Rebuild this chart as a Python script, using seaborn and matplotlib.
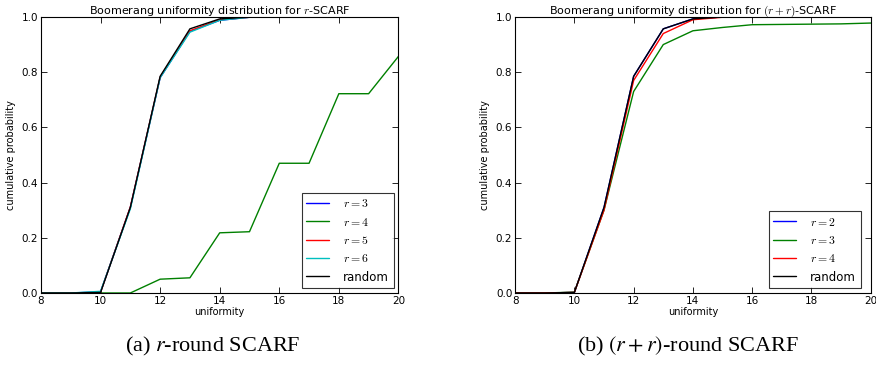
import pandas as pd
import matplotlib
matplotlib.use("Agg")
import matplotlib.pyplot as plt
import seaborn as sns

# ---------------- THEME ----------------
sns.set_style("ticks")
plt.rcParams["font.family"] = ["DejaVu Sans"]
plt.rcParams["mathtext.fontset"] = "cm"
plt.rcParams["xtick.direction"] = "in"
plt.rcParams["ytick.direction"] = "in"
plt.rcParams["text.color"] = "black"
plt.rcParams["axes.labelcolor"] = "black"

# ---------------- DATA ----------------
uniformity = [8, 9, 10, 11, 12, 13, 14, 15, 16, 17, 18, 19, 20]

# (a) r-SCARF
a_labels = ["$r=3$", "$r=4$", "$r=5$", "$r=6$", "random"]
a_r3 = [0.0, 0.0, 0.004, 0.31, 0.78, 0.948, 0.988, 0.999, 1.0, 1.0, 1.0, 1.0, 1.0]
a_r4 = [0.0, 0.0, 0.0, 0.0, 0.05, 0.055, 0.218, 0.222, 0.47, 0.47, 0.722, 0.722, 0.857]
a_r5 = [0.0, 0.0, 0.003, 0.312, 0.782, 0.95, 0.99, 0.999, 1.0, 1.0, 1.0, 1.0, 1.0]
a_r6 = [0.0, 0.0, 0.006, 0.305, 0.78, 0.945, 0.988, 0.999, 1.0, 1.0, 1.0, 1.0, 1.0]
a_rand = [0.0, 0.0, 0.002, 0.31, 0.785, 0.957, 0.993, 1.0, 1.0, 1.0, 1.0, 1.0, 1.0]

# (b) (r+r)-SCARF
b_labels = ["$r=2$", "$r=3$", "$r=4$", "random"]
b_r2 = [0.0, 0.0, 0.002, 0.31, 0.785, 0.957, 0.993, 1.0, 1.0, 1.0, 1.0, 1.0, 1.0]
b_r3 = [0.0, 0.0, 0.003, 0.30, 0.73, 0.90, 0.95, 0.962, 0.972, 0.973, 0.974, 0.975, 0.978]
b_r4 = [0.0, 0.0, 0.002, 0.30, 0.77, 0.94, 0.99, 0.999, 1.0, 1.0, 1.0, 1.0, 1.0]
b_rand = [0.0, 0.0, 0.002, 0.31, 0.785, 0.957, 0.993, 1.0, 1.0, 1.0, 1.0, 1.0, 1.0]

a_colors = ["blue", "green", "red", "c", "black"]
b_colors = ["blue", "green", "red", "black"]


def long_form(labels, series):
    rows = []
    for lab, vals in zip(labels, series):
        for x, y in zip(uniformity, vals):
            rows.append({"uniformity": x, "p": y, "series": lab})
    return pd.DataFrame(rows)


df_a = long_form(a_labels, [a_r3, a_r4, a_r5, a_r6, a_rand])
df_b = long_form(b_labels, [b_r2, b_r3, b_r4, b_rand])

# ---------------- FIGURE ----------------
fig = plt.figure(figsize=(8.76, 3.69), dpi=100)
ax_a = fig.add_axes([0.0468, 0.206, 0.408, 0.748])
ax_b = fig.add_axes([0.588, 0.206, 0.406, 0.748])


def style_axes(ax, df, labels, colors, title, legend_anchor):
    sns.lineplot(data=df, x="uniformity", y="p", hue="series",
                 hue_order=labels, palette=dict(zip(labels, colors)),
                 linewidth=1.0, ax=ax, legend=False)
    ax.set_xlim(8, 20)
    ax.set_ylim(0, 1)
    ax.set_xticks(range(8, 21, 2))
    ax.set_yticks([0.0, 0.2, 0.4, 0.6, 0.8, 1.0])
    ax.set_yticklabels(["0.0", "0.2", "0.4", "0.6", "0.8", "1.0"])
    ax.tick_params(labelsize=7.5, length=4, width=0.6, top=True, right=True,
                   pad=2, colors="black")
    ax.set_xlabel("uniformity", fontsize=7, labelpad=1)
    ax.set_ylabel("cumulative probability", fontsize=7, labelpad=4)
    ax.set_title(title, fontsize=8, pad=2)
    for s in ax.spines.values():
        s.set_visible(True)
        s.set_linewidth(0.8)
        s.set_color("black")
    handles = [plt.Line2D([], [], color=c, lw=1.0) for c in colors]
    leg = ax.legend(handles, labels, loc="lower right", fontsize=8.5,
                    frameon=True, fancybox=False, handlelength=1.9,
                    borderpad=0.4, labelspacing=0.45, handletextpad=1.2,
                    borderaxespad=0.4, bbox_to_anchor=legend_anchor)
    leg.get_frame().set_edgecolor("black")
    leg.get_frame().set_linewidth(0.8)


style_axes(ax_a, df_a, a_labels, a_colors,
           "Boomerang uniformity distribution for $r$-SCARF", (1.0, 0.0))
style_axes(ax_b, df_b, b_labels, b_colors,
           "Boomerang uniformity distribution for $(r+r)$-SCARF", (0.985, 0.0))

fig.text(0.243, 0.03, "(a) $r$-round SCARF", ha="center", va="bottom",
         fontsize=16, family="Liberation Serif", math_fontfamily="stix")
fig.text(0.785, 0.03, "(b) $(r+r)$-round SCARF", ha="center", va="bottom",
         fontsize=16, family="Liberation Serif", math_fontfamily="stix")

plt.savefig("out.png", dpi=100)
